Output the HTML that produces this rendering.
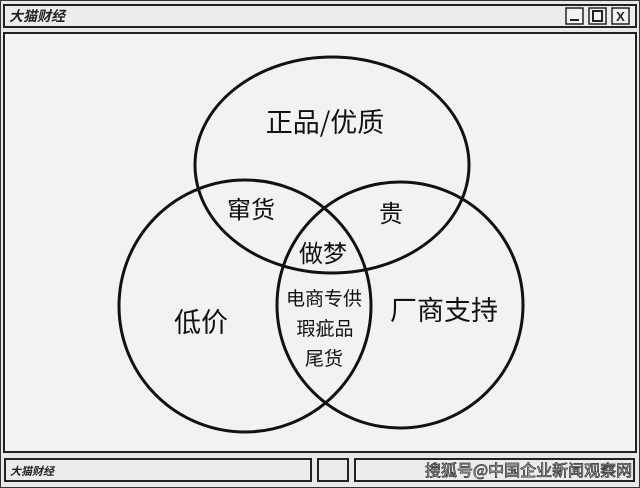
<!DOCTYPE html>
<html><head><meta charset="utf-8"><style>
body{margin:0;width:640px;height:488px;background:#e6e6e6;overflow:hidden;font-family:"Liberation Sans","Noto Sans CJK SC",sans-serif;}
</style></head><body>
<svg width="640" height="488" xmlns="http://www.w3.org/2000/svg" style="position:absolute;left:0;top:0">
<rect x="0.5" y="0.5" width="639" height="487" fill="#e8e8e8" stroke="#333" stroke-width="1"/>
<rect x="4" y="5" width="632" height="22" fill="#ececec" stroke="#222" stroke-width="2"/>
<text x="9" y="21" font-size="14" font-weight="bold" font-style="italic" fill="#222" font-family="Noto Sans CJK SC, sans-serif">大猫财经</text>
<rect x="566" y="8" width="17" height="16" fill="#f2f2f2" stroke="#222" stroke-width="1.5"/>
<line x1="570" y1="20" x2="579" y2="20" stroke="#222" stroke-width="2"/>
<rect x="589" y="8" width="17" height="16" fill="#f2f2f2" stroke="#222" stroke-width="1.5"/>
<rect x="593" y="11" width="9" height="10" fill="none" stroke="#222" stroke-width="2"/>
<rect x="612" y="8" width="17" height="16" fill="#f2f2f2" stroke="#222" stroke-width="1.5"/>
<text x="620.5" y="21" font-size="13" font-weight="bold" text-anchor="middle" fill="#222">X</text>
<rect x="4" y="33" width="632" height="419" fill="#f2f2f2" stroke="#222" stroke-width="2"/>
<g fill="none" stroke="#111" stroke-width="3">
<ellipse cx="332" cy="165" rx="137" ry="108"/>
<circle cx="245" cy="306" r="126"/>
<circle cx="400" cy="305" r="123"/>
</g>
<g font-family="Noto Sans CJK SC, sans-serif" fill="#111" text-anchor="middle">
<text x="325" y="132" font-size="27">正品/优质</text>
<text x="251" y="218" font-size="24">窜货</text>
<text x="391" y="222" font-size="24">贵</text>
<text x="323" y="262" font-size="24">做梦</text>
<text x="201" y="332" font-size="27">低价</text>
<text x="444" y="320" font-size="27">厂商支持</text>
<text x="324" y="305" font-size="19">电商专供</text>
<text x="325" y="335" font-size="19">瑕疵品</text>
<text x="324" y="365" font-size="19">尾货</text>
</g>
<rect x="5" y="459" width="306" height="22" fill="#ececec" stroke="#222" stroke-width="2"/>
<text x="10" y="475" font-size="11" font-weight="bold" font-style="italic" fill="#222" font-family="Noto Sans CJK SC, sans-serif">大猫财经</text>
<rect x="318" y="459" width="30" height="22" fill="#ececec" stroke="#222" stroke-width="2"/>
<rect x="355" y="459" width="279" height="22" fill="#ececec" stroke="#222" stroke-width="2"/>
<text x="425" y="476" font-size="16" fill="#fff" stroke="#333" stroke-width="0.8" font-family="Noto Sans CJK SC, sans-serif">搜狐号@中国企业新闻观察网</text>
</svg>
</body></html>
